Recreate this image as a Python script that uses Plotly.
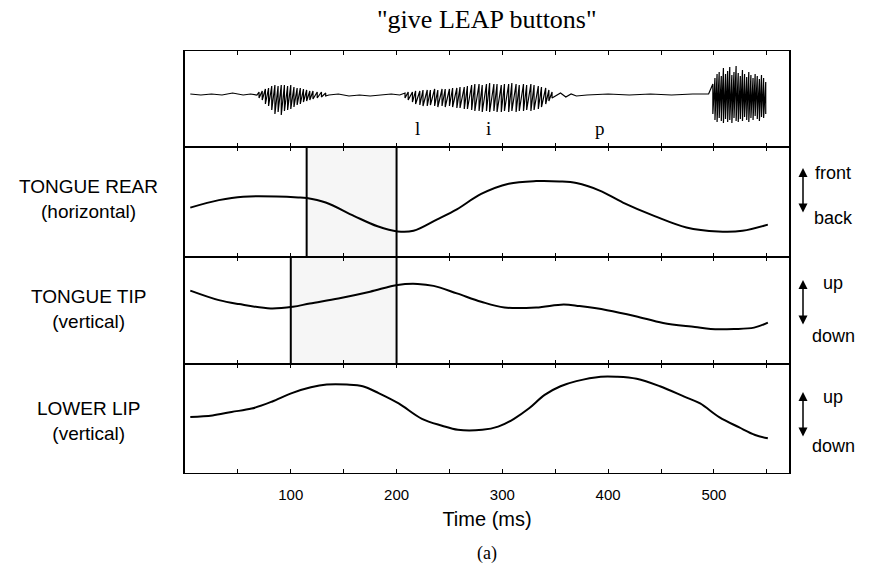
import plotly.graph_objects as go

# ---------------- data ----------------
# Articulatory traces (relative position, 0 = bottom of panel, 100 = top)
rear_t = [5, 32, 55, 107, 115, 133, 160, 182, 201, 216, 238, 257, 280, 306, 332, 354,
          370, 392, 414, 444, 474, 504, 527, 551]
rear_v = [44.9, 51.7, 54.8, 54.2, 53.6, 49.5, 37.2, 27.9, 23.2, 23.8, 34.0, 43.3, 57.3,
          66.6, 69.0, 68.7, 67.2, 60.4, 49.5, 37.2, 26.9, 23.2, 23.8, 29.4]

tip_t = [5, 32, 51, 81, 102, 118, 145, 175, 201, 220, 235, 257, 280, 302, 332, 358,
         373, 399, 426, 452, 482, 497, 519, 538, 551]
tip_v = [68.6, 59.7, 56.0, 51.9, 53.5, 56.6, 61.3, 67.6, 73.9, 74.8, 73.0, 66.0, 58.2,
         52.8, 52.8, 55.7, 54.1, 50.3, 44.7, 38.4, 34.6, 32.7, 32.7, 34.0, 38.7]

lip_t = [5, 26, 44, 63, 82, 101, 119, 134, 153, 168, 183, 202, 224, 243, 258, 281, 296,
         311, 325, 340, 355, 370, 393, 408, 427, 449, 472, 487, 505, 524, 539, 551]
lip_v = [51.3, 52.8, 56.0, 59.1, 65.4, 73.3, 78.6, 81.1, 81.1, 79.6, 73.3, 63.8, 49.7,
         43.4, 39.6, 39.6, 42.5, 49.7, 59.1, 71.7, 79.6, 84.3, 88.4, 88.4, 86.5, 79.6,
         70.1, 63.8, 51.3, 41.8, 34.9, 31.8]

# Acoustic waveform: quiet stretches (baseline wiggle) and voiced pulses (upper / lower peaks)
quiet1_t = [5, 15, 25, 35, 45, 55, 62, 68]
quiet1_y = [0, -1, 0, -1, 1, -1, 0, -1]
burst1_t = [70, 73, 76, 79, 82, 85, 88, 91, 94, 97, 100, 103, 106, 109, 112, 115, 118,
            121, 125, 129, 133]
burst1_hi = [2, 3, 5, 6, 8, 9, 8, 9, 9, 8, 9, 7, 6, 6, 5, 4, 3, 3, 2, 2, 1]
burst1_lo = [-4, -6, -10, -12, -16, -20, -18, -21, -17, -16, -15, -13, -11, -10, -8, -7,
             -6, -5, -4, -3, -2]
quiet2_t = [136, 145, 155, 165, 175, 185, 195, 203]
quiet2_y = [-1, 0, -2, -1, -2, -1, 0, -1]
burst2_t = [208, 211, 215, 218, 222, 225, 229, 232, 236, 239, 243, 246, 250, 253, 257,
            260, 264, 267, 271, 274, 278, 281, 285, 288, 292, 295, 299, 302, 306, 309,
            313, 316, 320, 323, 327, 330, 334, 337, 341, 344, 347]
burst2_hi = [1, 2, 2, 3, 3, 4, 4, 4, 5, 4, 5, 5, 5, 6, 6, 7, 7, 8, 9, 10, 10, 9, 10, 11,
             10, 10, 9, 10, 10, 11, 10, 9, 10, 9, 10, 9, 8, 7, 6, 4, 2]
burst2_lo = [-4, -6, -8, -10, -11, -12, -12, -11, -12, -13, -12, -13, -12, -13, -14, -14,
             -15, -15, -16, -17, -17, -18, -17, -18, -17, -18, -18, -17, -18, -17, -18,
             -17, -17, -16, -17, -16, -15, -13, -10, -7, -4]
quiet3_t = [350, 355, 360, 365, 370, 380, 400, 420, 440, 460, 480, 495]
quiet3_y = [-2, 1, -3, 0, -2, -1, 0, -1, 0, -1, 0, 0]
burst3_t = [499, 501, 503, 505, 507, 509, 511, 513, 515, 517, 519, 521, 523, 525, 527,
            529, 531, 533, 535, 537, 539, 541, 543, 545, 547, 549]
burst3_hi = [10, 16, 20, 22, 18, 26, 20, 23, 27, 19, 22, 28, 21, 18, 24, 20, 17, 22, 19,
             16, 20, 18, 15, 19, 16, 12]
burst3_lo = [-20, -26, -28, -24, -27, -29, -25, -28, -26, -29, -24, -27, -28, -25, -27,
             -23, -26, -28, -24, -26, -22, -25, -27, -23, -24, -20]

segment_labels = ["l", "i", "p"]
segment_t = [220, 287, 392]

# highlighted intervals (ms)
rear_box = [115, 200]
tip_box = [100, 200]

tick_vals = [50, 100, 150, 200, 250, 300, 350, 400, 450, 500, 550]
tick_text = ["", "100", "", "200", "", "300", "", "400", "", "500", ""]

panel_names = ["TONGUE REAR<br>(horizontal)", "TONGUE TIP<br>(vertical)",
               "LOWER LIP<br>(vertical)"]
direction_labels = [("front", "back"), ("up", "down"), ("up", "down")]

# ---------------- figure ----------------
W, H = 873, 573


def fy(py):
    return 1 - py / H


def pulses(ts, his, los):
    xs, ys = [], []
    for t, h, l in zip(ts, his, los):
        xs += [t, t]
        ys += [h, l]
    return xs, ys


wx, wy = list(quiet1_t), list(quiet1_y)
px_, py_ = pulses(burst1_t, burst1_hi, burst1_lo); wx += px_; wy += py_
wx += quiet2_t; wy += quiet2_y
px_, py_ = pulses(burst2_t, burst2_hi, burst2_lo); wx += px_; wy += py_
wx += quiet3_t; wy += quiet3_y
px_, py_ = pulses(burst3_t, burst3_hi, burst3_lo); wx += px_; wy += py_

fig = go.Figure()
fig.add_trace(go.Scatter(x=wx, y=wy, mode="lines", line=dict(color="black", width=1.2),
                         xaxis="x", yaxis="y", showlegend=False, hoverinfo="skip"))
fig.add_trace(go.Scatter(x=rear_t, y=rear_v, mode="lines",
                         line=dict(color="black", width=2, shape="spline"),
                         xaxis="x2", yaxis="y2", showlegend=False))
fig.add_trace(go.Scatter(x=tip_t, y=tip_v, mode="lines",
                         line=dict(color="black", width=2, shape="spline"),
                         xaxis="x3", yaxis="y3", showlegend=False))
fig.add_trace(go.Scatter(x=lip_t, y=lip_v, mode="lines",
                         line=dict(color="black", width=2, shape="spline"),
                         xaxis="x4", yaxis="y4", showlegend=False))

x0, x1 = 185 / W, 789 / W
doms = [(fy(147), fy(51)), (fy(257), fy(147)), (fy(364), fy(257)), (fy(473), fy(364))]
xcommon = dict(range=[0, 571], showgrid=False, zeroline=False, showline=True,
               linecolor="black", linewidth=1.2, mirror="ticks", ticks="inside",
               ticklen=4, tickwidth=1, tickcolor="black", tickvals=tick_vals,
               ticktext=tick_text, domain=[x0, x1], fixedrange=True)
ycommon = dict(showgrid=False, zeroline=False, showline=True, linecolor="black",
               linewidth=1.5, mirror=True, ticks="", showticklabels=False, fixedrange=True)

layout = dict(width=W, height=H, margin=dict(l=0, r=0, t=0, b=0), autosize=False,
              paper_bgcolor="white", plot_bgcolor="white", showlegend=False)
for i in range(4):
    s = "" if i == 0 else str(i + 1)
    xa = dict(xcommon)
    xa["anchor"] = "y" + s
    if i > 0:
        xa["matches"] = "x"
    if i == 3:
        xa["showticklabels"] = True
        xa["tickfont"] = dict(family="Liberation Sans, Arial, sans-serif", size=15,
                              color="black")
        xa["ticklabelstandoff"] = 8
        xa["title"] = dict(text="Time (ms)", standoff=9,
                           font=dict(family="Liberation Sans, Arial, sans-serif",
                                     size=20, color="black"))
    else:
        xa["showticklabels"] = False
    ya = dict(ycommon)
    ya["anchor"] = "x" + s
    ya["domain"] = list(doms[i])
    ya["range"] = [-53, 43] if i == 0 else [0, 100]
    layout["xaxis" + s] = xa
    layout["yaxis" + s] = ya
fig.update_layout(**layout)

# highlighted intervals
for (a, b), ax in [(rear_box, "2"), (tip_box, "3")]:
    fig.add_shape(type="rect", xref="x" + ax, yref="y" + ax + " domain", x0=a, x1=b,
                  y0=0, y1=1, fillcolor="rgba(0,0,0,0.035)", line=dict(width=0), layer="below")
    for xv in (a, b):
        fig.add_shape(type="line", xref="x" + ax, yref="y" + ax + " domain", x0=xv, x1=xv,
                      y0=0, y1=1, line=dict(color="black", width=2))

serif = "Liberation Serif, Times New Roman, serif"
sans = "Liberation Sans, Arial, sans-serif"


def label(text, xp, yp, font, size):
    return dict(text=text, x=xp / W, y=fy(yp), xref="paper", yref="paper",
                xanchor="center", yanchor="middle", showarrow=False,
                font=dict(family=font, size=size, color="black"))


annos = [label('"give LEAP buttons"', 487, 19, serif, 26)]
for lab, t in zip(segment_labels, segment_t):
    annos.append(dict(text=lab, x=t, y=-34, xref="x", yref="y", showarrow=False,
                      xanchor="center", yanchor="middle",
                      font=dict(family=serif, size=19, color="black")))
for name, yy in zip(panel_names, [199, 309, 421]):
    a = label(name, 88, yy, sans, 19)
    a["font"]["size"] = 19
    annos.append(a)
for (up, dn), (yu, yd) in zip(direction_labels, [(173, 218), (283, 336), (397, 446)]):
    annos.append(label(up, 833, yu, sans, 18))
    annos.append(label(dn, 833, yd, sans, 18))
for top, bot in [(168, 214), (280, 326), (392, 438)]:
    annos.append(dict(text="", x=803 / W, y=fy(top), xref="paper", yref="paper",
                      showarrow=True, ax=0, ay=bot - top, arrowhead=2, arrowsize=1.2,
                      arrowwidth=1.5, arrowside="end+start", arrowcolor="black"))
annos.append(label("(a)", 487, 553, serif, 18))
fig.update_layout(annotations=annos)

fig.write_html("out.html")
